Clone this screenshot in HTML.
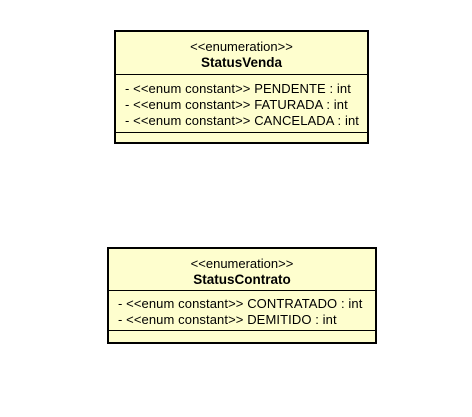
<!DOCTYPE html>
<html><head><meta charset="utf-8"><style>
body{margin:0;width:472px;height:417px;background:#fff;position:relative;font-family:"Liberation Sans",sans-serif;font-size:13px;color:#000}
.b{position:absolute;background:#fefece;border:2px solid #000;box-sizing:border-box}
.l{position:absolute;left:0;right:0;height:1px;background:#000}
.t{position:absolute;white-space:nowrap;line-height:15px}
.c{left:0;right:0;text-align:center}
</style></head><body>
<div class="b" style="left:114px;top:30px;width:255px;height:114px">
 <div class="t c" style="top:7px">&lt;&lt;enumeration&gt;&gt;</div>
 <div class="t c" style="top:23px;font-weight:bold;font-size:13.5px">StatusVenda</div>
 <div class="l" style="top:42px"></div>
 <div class="t" style="left:9px;top:49px;letter-spacing:0.1px">- &lt;&lt;enum constant&gt;&gt; PENDENTE : int</div>
 <div class="t" style="left:9px;top:65px;letter-spacing:0.1px">- &lt;&lt;enum constant&gt;&gt; FATURADA : int</div>
 <div class="t" style="left:9px;top:81px;letter-spacing:0.1px">- &lt;&lt;enum constant&gt;&gt; CANCELADA : int</div>
 <div class="l" style="top:100px"></div>
</div>
<div class="b" style="left:107px;top:247px;width:270px;height:97px">
 <div class="t c" style="top:7px">&lt;&lt;enumeration&gt;&gt;</div>
 <div class="t c" style="top:23px;font-weight:bold;font-size:13.5px">StatusContrato</div>
 <div class="l" style="top:41px"></div>
 <div class="t" style="left:9px;top:47px;letter-spacing:0.1px">- &lt;&lt;enum constant&gt;&gt; CONTRATADO : int</div>
 <div class="t" style="left:9px;top:63px;letter-spacing:0.1px">- &lt;&lt;enum constant&gt;&gt; DEMITIDO : int</div>
 <div class="l" style="top:81px"></div>
</div>
</body></html>
